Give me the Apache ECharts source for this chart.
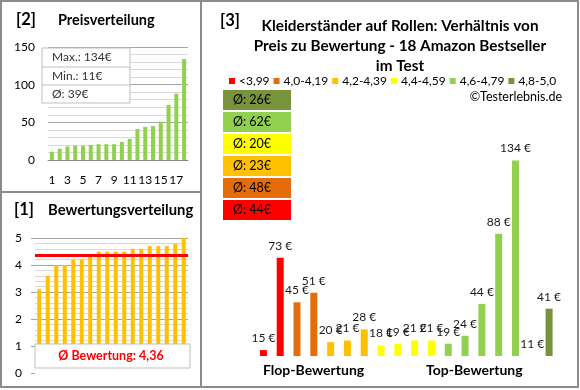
<!DOCTYPE html>
<html><head><meta charset="utf-8">
<script src="https://cdn.jsdelivr.net/npm/echarts/dist/echarts.min.js"></script>
<style>html,body{margin:0;padding:0;background:#fff}#c{width:580px;height:390px}</style>
</head><body><div id="c"></div>
<script>
// ---- data ----
const priceRank = ['1','2','3','4','5','6','7','8','9','10','11','12','13','14','15','16','17','18'];
const pricesSorted = [11,15,18,19,19,20,21,21,21,24,28,41,44,45,51,73,88,134];
const ratingsSorted = [3.1,3.6,4.0,4.0,4.2,4.2,4.3,4.5,4.5,4.5,4.5,4.6,4.6,4.7,4.7,4.7,4.8,5.0];
const ratingAverage = 4.36;
const ratingAverageText = 'Ø Bewertung: 4,36';
const priceStatTexts = ['Max.: 134€', 'Min.: 11€', 'Ø: 39€'];
const groupNames = ['<3,99','4,0-4,19','4,2-4,39','4,4-4,59','4,6-4,79','4,8-5,0'];
const groupSizes = [2,2,3,4,5,2];
const productPrices = [15,73,45,51,20,21,28,18,19,21,21,19,24,44,88,134,11,41];
const groupColors = ['#FF0000','#E46C0A','#FFC000','#FFFF00','#92D050','#77933C'];
const titleLines = ['Kleiderständer auf Rollen: Verhältnis von','Preis zu Bewertung - 18 Amazon Bestseller','im Test'];

const FONT = 'Lato';
const chart = echarts.init(document.getElementById('c'));

// group series for right chart
const productIdx = productPrices.map((_, i) => String(i + 1));
const groupSeries = [];
const groupAvgs = [];
let start = 0;
groupSizes.forEach((n, g) => {
  const data = productPrices.map((v, i) => (i >= start && i < start + n) ? v : '-');
  const vals = productPrices.slice(start, start + n);
  groupAvgs.push(Math.round(vals.reduce((a, b) => a + b, 0) / n));
  start += n;
  groupSeries.push({
    name: groupNames[g], type: 'bar', xAxisIndex: 2, yAxisIndex: 2,
    data, barWidth: 7, barGap: '-100%', itemStyle: { color: groupColors[g] },
    label: { show: true, position: 'top', distance: 6, formatter: p => p.value + ' €',
      fontFamily: FONT, fontSize: 12, color: '#1a1a1a' }
  });
});

const border = '#8c8c8c';
const graphic = [
  { type: 'rect', shape: { x: 1, y: 1, width: 577, height: 386 }, style: { fill: 'none', stroke: border, lineWidth: 2 }, z: 200 },
  { type: 'line', shape: { x1: 201, y1: 1, x2: 201, y2: 387 }, style: { stroke: border, lineWidth: 2 }, z: 200 },
  { type: 'line', shape: { x1: 1, y1: 192, x2: 201, y2: 192 }, style: { stroke: border, lineWidth: 2 }, z: 200 },
  // panel titles
  { type: 'text', style: { text: '[2]', x: 16, y: 20, font: 'bold 16.5px ' + FONT, fill: '#000', textVerticalAlign: 'middle' }, z: 200 },
  { type: 'text', style: { text: 'Preisverteilung', x: 58, y: 20, font: 'bold 14.5px ' + FONT, fill: '#000', textVerticalAlign: 'middle' }, z: 200 },
  { type: 'text', style: { text: '[1]', x: 14, y: 210, font: 'bold 16.5px ' + FONT, fill: '#000', textVerticalAlign: 'middle' }, z: 200 },
  { type: 'text', style: { text: 'Bewertungsverteilung', x: 48, y: 210, font: 'bold 14.8px ' + FONT, fill: '#000', textVerticalAlign: 'middle' }, z: 200 },
  { type: 'text', style: { text: '[3]', x: 220, y: 21, font: 'bold 16.5px ' + FONT, fill: '#000', textVerticalAlign: 'middle' }, z: 200 },
  // price stats box
  { type: 'rect', shape: { x: 42, y: 48, width: 88, height: 55 }, style: { fill: '#fff', stroke: '#bfbfbf', lineWidth: 1 }, z: 150 },
  { type: 'line', shape: { x1: 42, y1: 67, x2: 130, y2: 67 }, style: { stroke: '#bfbfbf', lineWidth: 1 }, z: 151 },
  { type: 'line', shape: { x1: 42, y1: 85, x2: 130, y2: 85 }, style: { stroke: '#bfbfbf', lineWidth: 1 }, z: 151 },
  // rating average box
  { type: 'rect', shape: { x: 35, y: 344, width: 155, height: 32 }, style: { fill: '#fff' }, z: 150 },
  { type: 'rect', shape: { x: 35, y: 344, width: 155, height: 24 }, style: { fill: '#fff', stroke: '#bfbfbf', lineWidth: 1 }, z: 151 },
  { type: 'text', style: { text: ratingAverageText, x: 111, y: 356, font: 'bold 12.5px ' + FONT, fill: '#FF0000', textAlign: 'center', textVerticalAlign: 'middle' }, z: 152 },
  // right chart cover at base
  { type: 'rect', shape: { x: 240, y: 356, width: 330, height: 30 }, style: { fill: '#fff' }, z: 150 },
  { type: 'text', style: { text: 'Flop-Bewertung', x: 263, y: 370, font: 'bold 14px ' + FONT, fill: '#000', textVerticalAlign: 'middle' }, z: 152 },
  { type: 'text', style: { text: 'Top-Bewertung', x: 426, y: 370, font: 'bold 14px ' + FONT, fill: '#000', textVerticalAlign: 'middle' }, z: 152 },
  { type: 'text', style: { text: '©Testerlebnis.de', x: 562, y: 97, font: '12.5px ' + FONT, fill: '#000', textAlign: 'right', textVerticalAlign: 'middle' }, z: 152 }
];
priceStatTexts.forEach((t, i) => {
  graphic.push({ type: 'text', style: { text: t, x: 52, y: 57.5 + i * 18.3, font: '12px ' + FONT, fill: '#333', textVerticalAlign: 'middle' }, z: 152 });
});
titleLines.forEach((t, i) => {
  graphic.push({ type: 'text', style: { text: t, x: 400, y: 26 + i * 19.8, font: 'bold 15.3px ' + FONT, fill: '#000', textAlign: 'center', textVerticalAlign: 'middle' }, z: 152 });
});
// average boxes (top: last group)
for (let k = 0; k < 6; k++) {
  const g = 5 - k;
  const y = 90 + k * 22;
  graphic.push({ type: 'rect', shape: { x: 223, y: y, width: 68, height: 20 }, style: { fill: groupColors[g] }, z: 150 });
  graphic.push({ type: 'text', style: { text: 'Ø: ' + groupAvgs[g] + '€', x: 233, y: y + 10, font: '12.5px ' + FONT, fill: '#000', textVerticalAlign: 'middle' }, z: 151 });
}

const option = {
  animation: false,
  backgroundColor: '#fff',
  textStyle: { fontFamily: FONT },
  legend: {
    data: groupNames, left: 224, top: 70, icon: 'rect', itemWidth: 6, itemHeight: 6, itemGap: 4,
    textStyle: { fontFamily: FONT, fontSize: 12, color: '#000', padding: [0, 0, 0, -1] }, selectedMode: false
  },
  grid: [
    { left: 48, top: 47, width: 140, height: 113 },
    { left: 35, top: 238, width: 153, height: 135 },
    { left: 255, top: 135, width: 302.5, height: 239 }
  ],
  xAxis: [
    { type: 'category', gridIndex: 0, data: priceRank,
      axisLine: { lineStyle: { color: '#8c8c8c' } }, axisTick: { show: false },
      axisLabel: { interval: 1, margin: 14, fontFamily: FONT, fontSize: 12, color: '#000' } },
    { type: 'category', gridIndex: 1, data: priceRank, axisLine: { show: false }, axisTick: { show: false }, axisLabel: { show: false } },
    { type: 'category', gridIndex: 2, data: productIdx, show: false }
  ],
  yAxis: [
    { type: 'value', gridIndex: 0, min: 0, max: 150, interval: 50,
      axisLine: { show: false }, axisTick: { show: false },
      axisLabel: { margin: 13, fontFamily: FONT, fontSize: 12, color: '#000' },
      splitLine: { lineStyle: { color: '#a6a6a6' } },
      minorTick: { show: false, splitNumber: 5 }, minorSplitLine: { show: true, lineStyle: { color: '#d9d9d9' } } },
    { type: 'value', gridIndex: 1, min: 0, max: 5, interval: 1,
      axisLine: { show: false }, axisTick: { show: true, length: 4, lineStyle: { color: '#a6a6a6' } },
      axisLabel: { margin: 13, fontFamily: FONT, fontSize: 12, color: '#000' },
      splitLine: { lineStyle: { color: '#a6a6a6' } },
      minorTick: { show: false, splitNumber: 5 }, minorSplitLine: { show: true, lineStyle: { color: '#d9d9d9' } } },
    { type: 'value', gridIndex: 2, min: 0, max: 150, show: false, splitLine: { show: false } }
  ],
  series: [
    { type: 'bar', xAxisIndex: 0, yAxisIndex: 0, data: pricesSorted, barWidth: 4, itemStyle: { color: '#92D050' } },
    { type: 'bar', xAxisIndex: 1, yAxisIndex: 1, data: ratingsSorted, barWidth: 4, itemStyle: { color: '#FFC000' },
      markLine: { silent: true, symbol: 'none', label: { show: false },
        lineStyle: { color: '#FF0000', width: 3, type: 'solid' }, data: [{ yAxis: ratingAverage }] } },
    ...groupSeries
  ],
  graphic: graphic
};
chart.setOption(option);
</script>
</body></html>
